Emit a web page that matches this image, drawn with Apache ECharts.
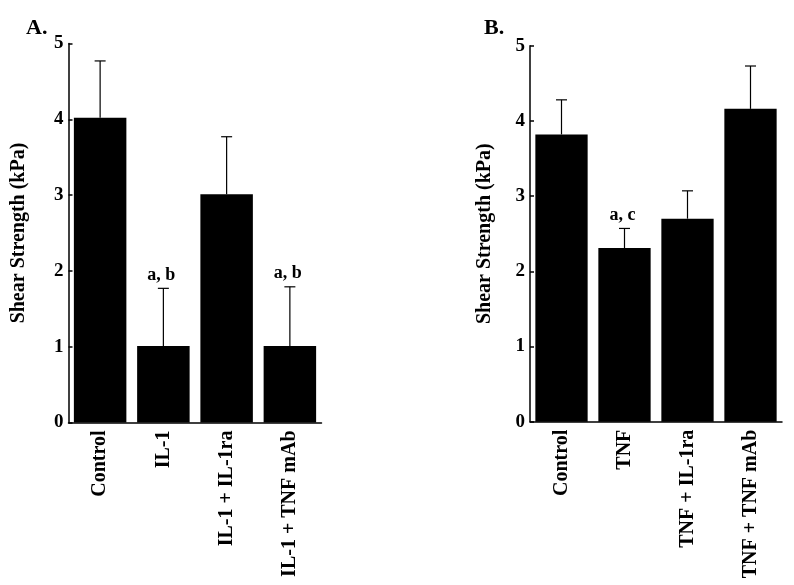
<!DOCTYPE html>
<html>
<head>
<meta charset="utf-8">
<script src="https://cdn.jsdelivr.net/npm/echarts@6/dist/echarts.min.js"></script>
<style>
  html, body { margin: 0; padding: 0; background: #fff; }
  #chart { width: 794px; height: 585px; }
</style>
</head>
<body>
<div id="chart"></div>
<script>
// panel A
const catsA = ["Control", "IL-1", "IL-1 + IL-1ra", "IL-1 + TNF mAb"];
const meanA = [4.02, 1.01, 3.01, 1.01];
const upperA = [4.77, 1.77, 3.77, 1.79];
const noteA = ["", "a, b", "", "a, b"];

// panel B
const catsB = ["Control", "TNF", "TNF + IL-1ra", "TNF + TNF mAb"];
const meanB = [3.82, 2.31, 2.70, 4.16];
const upperB = [4.28, 2.57, 3.07, 4.73];
const noteB = ["", "a, c", "", ""];

const FONT = "'Liberation Serif', 'Times New Roman', serif";

const errorBars = (notes) => (params, api) => {
  const i = api.value(0);
  const lo = api.coord([i, api.value(1)]);
  const hi = api.coord([i, api.value(2)]);
  const half = 5.5;
  const children = [
    { type: "line", shape: { x1: lo[0], y1: lo[1], x2: hi[0], y2: hi[1] },
      style: { stroke: "#000", lineWidth: 1.2 } },
    { type: "line", shape: { x1: hi[0] - half, y1: hi[1], x2: hi[0] + half, y2: hi[1] },
      style: { stroke: "#000", lineWidth: 1.2 } },
  ];
  if (notes[i]) {
    children.push({
      type: "text",
      style: {
        x: hi[0] - 2, y: hi[1] - 4, text: notes[i],
        align: "center", verticalAlign: "bottom",
        font: "bold 18px " + FONT, fill: "#000",
      },
    });
  }
  return { type: "group", children };
};

const xAxisFor = (cats, idx) => ({
  type: "category",
  gridIndex: idx,
  data: cats,
  axisLine: { lineStyle: { color: "#000", width: 1.5 } },
  axisTick: { show: false },
  axisLabel: {
    interval: 0, rotate: 90, margin: 8,
    color: "#000", fontFamily: FONT, fontWeight: "bold", fontSize: 20,
  },
});

const yAxisFor = (idx, gap) => ({
  type: "value",
  gridIndex: idx,
  min: 0, max: 5, interval: 1,
  name: "Shear Strength (kPa)",
  nameLocation: "middle",
  nameGap: gap,
  nameTextStyle: { color: "#000", fontFamily: FONT, fontWeight: "bold", fontSize: 20 },
  axisLine: { show: true, lineStyle: { color: "#000", width: 1.5 } },
  axisTick: { show: true, inside: true, length: 4, lineStyle: { color: "#000", width: 1.5 } },
  axisLabel: { margin: 5, color: "#000", fontFamily: FONT, fontWeight: "bold", fontSize: 19 },
  splitLine: { show: false },
});

const chart = echarts.init(document.getElementById("chart"));

chart.setOption({
  animation: false,
  backgroundColor: "#fff",
  title: [
    { text: "A.", left: 21, top: 12, textStyle: { fontFamily: FONT, fontWeight: "bold", fontSize: 22, color: "#000" } },
    { text: "B.", left: 479, top: 12, textStyle: { fontFamily: FONT, fontWeight: "bold", fontSize: 22, color: "#000" } },
  ],
  grid: [
    { left: 68.5, top: 43.5, width: 253, height: 379 },
    { left: 530, top: 45.7, width: 252, height: 376 },
  ],
  xAxis: [xAxisFor(catsA, 0), xAxisFor(catsB, 1)],
  yAxis: [yAxisFor(0, 40), yAxisFor(1, 35)],
  series: [
    { type: "bar", xAxisIndex: 0, yAxisIndex: 0, data: meanA, barWidth: "83%", itemStyle: { color: "#000" } },
    { type: "custom", xAxisIndex: 0, yAxisIndex: 0, renderItem: errorBars(noteA),
      encode: { x: 0, y: [1, 2] }, data: meanA.map((m, i) => [i, m, upperA[i]]), z: 3 },
    { type: "bar", xAxisIndex: 1, yAxisIndex: 1, data: meanB, barWidth: "83%", itemStyle: { color: "#000" } },
    { type: "custom", xAxisIndex: 1, yAxisIndex: 1, renderItem: errorBars(noteB),
      encode: { x: 0, y: [1, 2] }, data: meanB.map((m, i) => [i, m, upperB[i]]), z: 3 },
  ],
});
</script>
</body>
</html>
